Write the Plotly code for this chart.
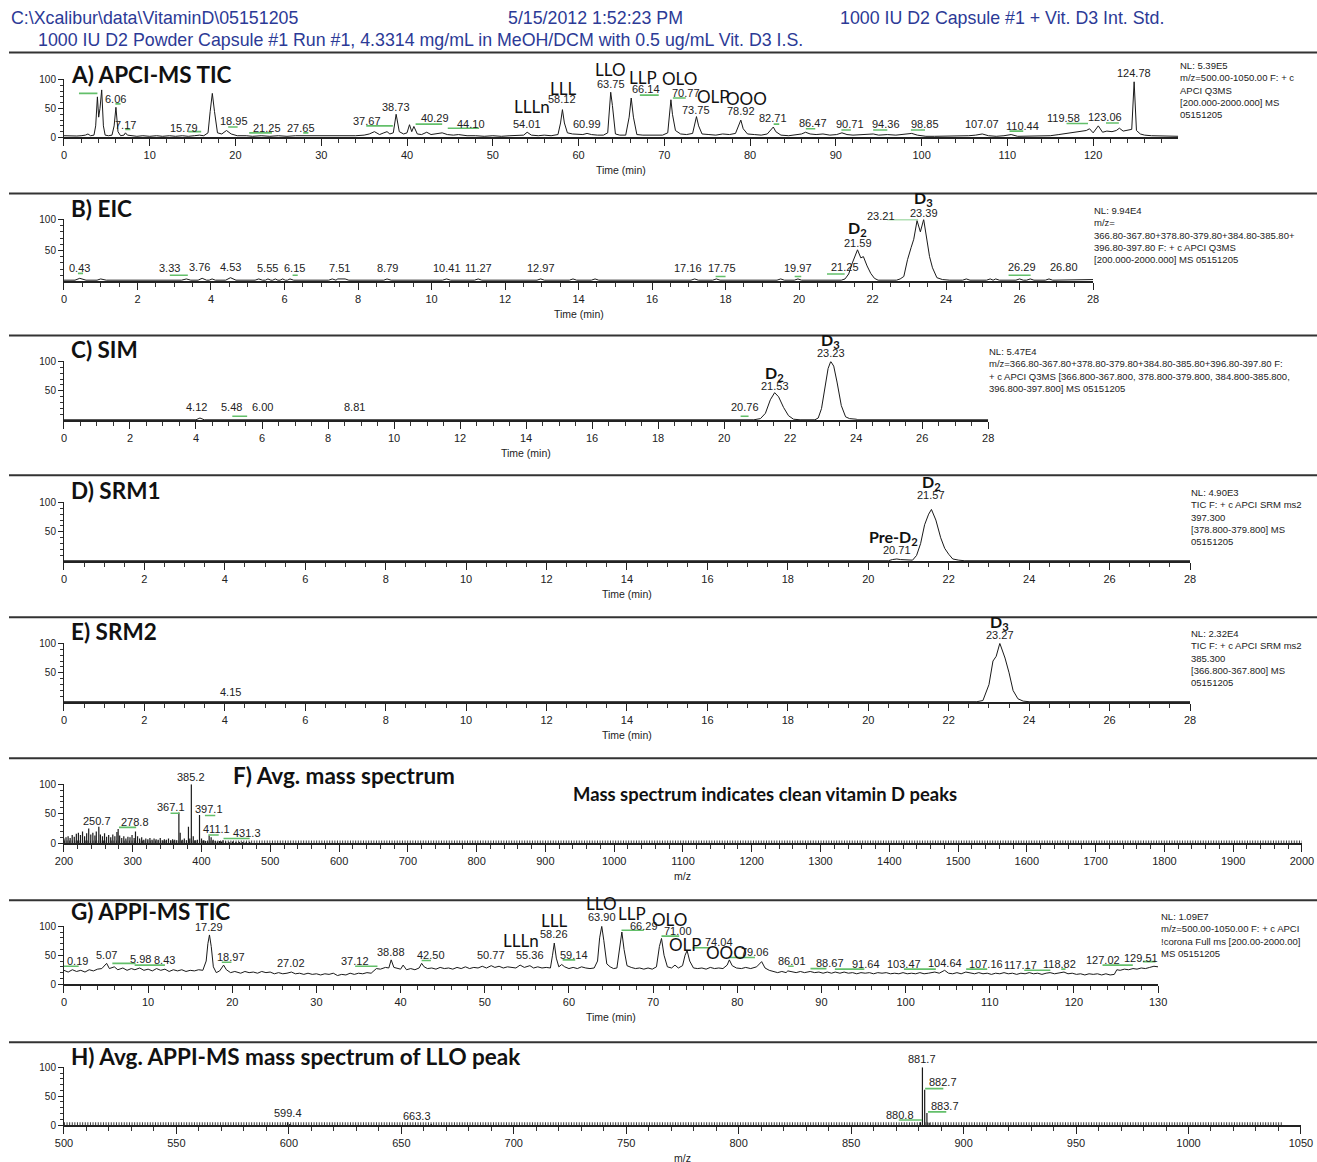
import plotly.graph_objects as go

# Page layout is specified in page pixels; these factors map page pixels to figure pixels.
OX, SX = 8.0, 0.985
OY, SY = 5.5, 0.99
W = round((1317 - OX) / SX)
H = round((1162 - OY) / SY)

# ---------------- header text ----------------
HEADER_PATH = "C:\\Xcalibur\\data\\VitaminD\\05151205"
HEADER_DATE = "5/15/2012 1:52:23 PM"
HEADER_TITLE = "1000 IU D2 Capsule #1 + Vit. D3 Int. Std."
HEADER_SAMPLE = "1000 IU D2 Powder Capsule #1 Run #1, 4.3314 mg/mL in MeOH/DCM with 0.5 ug/mL Vit. D3 I.S."

# ---------------- A) APCI-MS TIC ----------------
a_time = [0, 0.5, 1, 1.5, 2, 2.5, 2.8, 3.1, 3.5, 3.7, 3.9, 4.05, 4.2, 4.4, 4.6, 4.8, 5.2, 5.6, 5.85, 6.06,
          6.3, 6.6, 7.0, 7.17, 7.4, 7.8, 8.5, 9.2, 10, 10.8, 11.5, 12.3, 13, 13.8, 14.5, 15.2, 15.79, 16.3,
          16.8, 17.05, 17.3, 17.55, 17.9, 18.4, 18.95, 19.5, 20.2, 21.25, 22, 23, 24, 25, 26, 27, 27.65,
          28.3, 29.2, 30, 31, 32, 33, 34, 35, 35.6, 36.2, 36.8, 37.3, 37.67, 38.0, 38.4, 38.73, 39.1, 39.6,
          40.0, 40.29, 40.55, 40.8, 41.2, 41.7, 42.3, 42.8, 43.4, 44.1, 44.7, 45.4, 46, 47, 48, 49, 50, 51,
          52, 53, 53.6, 54.01, 54.5, 55.3, 56, 56.8, 57.6, 57.9, 58.12, 58.35, 58.7, 59.3, 60, 60.5, 60.99,
          61.5, 62.2, 62.9, 63.4, 63.6, 63.75, 63.95, 64.3, 64.8, 65.5, 65.9, 66.14, 66.4, 66.8, 67.5, 68.2,
          69, 69.8, 70.4, 70.6, 70.77, 70.95, 71.3, 71.9, 72.6, 73.3, 73.55, 73.75, 74.0, 74.4, 75.2, 76,
          76.8, 77.6, 78.3, 78.7, 78.92, 79.2, 79.7, 80.5, 81.3, 82.0, 82.4, 82.71, 83.0, 83.6, 84.5, 85.3,
          86, 86.47, 87, 87.7, 88.5, 89.3, 90.1, 90.71, 91.3, 92, 93, 94, 94.36, 95, 96, 97, 98, 98.85,
          99.5, 100.5, 101.5, 102.5, 103.5, 104.5, 105.5, 106.3, 107.07, 107.8, 108.7, 109.6, 110.44, 111.2,
          112, 113, 114, 115, 116, 117, 118, 118.6, 119.2, 119.58, 120.0, 120.6, 121.1, 121.6, 122.2, 122.7,
          123.06, 123.5, 124.0, 124.5, 124.78, 125.05, 125.5, 126, 126.8, 127.5, 128.3, 129.2, 130]
a_int = [3, 2.5, 3, 2.5, 3, 4, 6, 3, 4, 20, 70, 35, 50, 82, 20, 4, 3, 4, 20, 52,
         10, 3, 4, 8, 4, 3, 2, 3, 2, 3, 2, 3, 2, 3, 2, 3, 4, 3,
         8, 45, 76, 45, 8, 6, 12, 6, 3, 3, 2, 3, 2, 3, 2, 3, 3,
         2, 3, 2, 3, 2, 3, 3, 4, 6, 10, 5, 8, 10, 6, 8, 40, 10, 6,
         8, 22, 10, 19, 6, 5, 9, 5, 6, 8, 5, 4, 5, 3, 3, 2, 3, 2,
         3, 3, 4, 9, 4, 3, 4, 3, 5, 25, 48, 25, 8, 6, 5, 5, 7,
         5, 4, 4, 8, 55, 78, 55, 6, 4, 4, 35, 68, 35, 5, 4, 4,
         5, 4, 8, 45, 65, 40, 12, 6, 5, 7, 25, 36, 20, 6, 5, 4,
         6, 5, 7, 20, 30, 15, 6, 5, 4, 6, 12, 18, 10, 4, 3, 4,
         6, 9, 6, 5, 6, 4, 5, 8, 5, 4, 5, 5, 6, 4, 5, 4, 6, 7,
         4, 2, 2, 2, 2, 2, 3, 4, 6, 3, 2, 3, 5, 2,
         2, 2, 2, 3, 5, 7, 9, 10, 12, 15, 8, 20, 9, 11, 10, 12,
         16, 11, 12, 14, 96, 12, 6, 4, 3, 3, 2, 2, 2]
a_labels = ["6.06", "7.17", "15.79", "18.95", "21.25", "27.65", "37.67", "38.73", "40.29", "44.10",
            "54.01", "58.12", "60.99", "63.75", "66.14", "70.77", "73.75", "78.92", "82.71", "86.47",
            "90.71", "94.36", "98.85", "107.07", "110.44", "119.58", "123.06", "124.78"]
a_label_level = [67, 22, 16, 28, 16, 16, 29, 53, 33, 24,
                 24, 66, 24, 93, 83, 76, 48, 45, 33, 25,
                 23, 23, 23, 23, 19, 33, 35, 111]
a_label_shift = {"15.79": -15, "18.95": 7, "21.25": 20, "37.67": -20, "40.29": 25, "44.10": 28,
                 "66.14": 15, "70.77": 15, "86.47": 7, "90.71": 8, "94.36": 13, "98.85": 13,
                 "110.44": 11, "119.58": -26, "123.06": -14}
a_names = ["LLLn", "LLL", "LLO", "LLP", "OLO", "OLP", "OOO"]
a_name_time = [54.6, 58.2, 63.75, 67.5, 71.8, 75.7, 79.6]
a_name_level = [53, 85, 118, 103, 101, 71, 67]
a_marks = [(1.75, 3.9, 76), (6.0, 6.6, 58), (7.15, 7.75, 14), (14.5, 16.0, 10), (19.15, 20.25, 18),
           (21.6, 24.25, 8), (27.9, 28.5, 8), (35.25, 38.35, 20), (41.0, 44.1, 23), (44.75, 48.4, 16),
           (67.15, 69.35, 73), (71.0, 72.5, 68), (82.75, 83.4, 23), (86.5, 87.6, 15), (90.65, 91.75, 13),
           (94.35, 96.0, 13), (98.75, 100.4, 13), (110.25, 111.85, 11), (116.9, 119.4, 24), (121.5, 123.0, 25)]
a_info = ["NL: 5.39E5", "m/z=500.00-1050.00 F: + c", "APCI Q3MS", "[200.000-2000.000] MS", "05151205"]

# ---------------- B) EIC ----------------
b_time = [0, 0.3, 0.43, 0.6, 0.9, 1.0, 1.15, 3.2, 3.33, 3.45, 3.65, 3.76, 3.88, 3.95, 4.03, 4.12, 4.4,
          4.53, 4.68, 5.2, 5.3, 5.4, 5.48, 5.55, 5.63, 5.68, 5.75, 5.82, 5.88, 5.95, 6.02, 6.08, 6.15,
          6.25, 7.2, 7.3, 7.4, 7.45, 7.51, 7.65, 7.75, 8.7, 8.79, 8.9, 10.3, 10.41, 10.52, 11.17, 11.27,
          11.37, 12.87, 12.97, 13.07, 13.75, 13.85, 13.95, 14.35, 14.45, 14.55, 17.06, 17.16, 17.26,
          17.65, 17.75, 17.85, 19.4, 19.5, 19.6, 19.87, 19.97, 20.07, 21.15, 21.25, 21.35, 21.45, 21.59,
          21.68, 21.75, 21.85, 21.95, 22.05, 22.15, 22.65, 22.75, 22.85, 22.95, 23.05, 23.12, 23.21,
          23.3, 23.39, 23.48, 23.55, 23.63, 23.75, 23.9, 24.1, 24.45, 24.55, 24.65, 25.1, 25.2, 25.28,
          25.35, 25.45, 25.9, 26.0, 26.1, 26.19, 26.29, 26.39, 26.7, 26.8, 26.9, 27.6, 27.7, 28]
b_int = [2, 2, 5, 2, 2, 4, 2, 2, 4, 2, 2, 5, 2, 2, 4, 2, 2,
         6, 2, 2, 4, 2, 2, 4, 2, 2, 4, 2, 2, 4, 2, 2, 4,
         2, 2, 4, 2, 4, 4, 4, 2, 2, 4, 2, 2, 4, 2, 2, 4,
         2, 2, 4, 2, 2, 4, 2, 2, 4, 2, 2, 4, 2,
         2, 4, 2, 2, 4, 2, 2, 4, 2, 2, 4, 12, 30, 51,
         38, 40, 25, 13, 5, 2, 2, 4, 8, 35, 55, 68, 98,
         80, 100, 65, 40, 22, 6, 3, 2, 2, 4, 2, 2, 4, 2,
         4, 2, 2, 4, 2, 2, 4, 2, 2, 4, 2, 2, 3, 3]
b_labels = ["0.43", "3.33", "3.76", "4.53", "5.55", "6.15", "7.51", "8.79", "10.41", "11.27", "12.97",
            "17.16", "17.75", "19.97", "21.25", "21.59", "23.21", "23.39", "26.29", "26.80"]
b_label_level = [22, 22, 24, 24, 22, 22, 22, 22, 22, 22, 22,
                 22, 22, 22, 24, 62, 105, 111, 24, 24]
b_label_shift = {"3.33": -17, "3.76": -3, "6.15": 4, "17.16": -7, "17.75": 6, "23.21": -36,
                 "26.29": -8, "26.80": 15}
b_names = ["<b>D<sub>2</sub></b>", "<b>D<sub>3</sub></b>"]
b_name_time = [21.59, 23.39]
b_name_level = [85, 133]
b_marks = [(0.38, 0.52, 13), (2.88, 3.37, 10), (6.22, 6.36, 10), (17.73, 18.0, 8), (19.88, 20.06, 8),
           (20.76, 21.24, 12), (22.4, 23.24, 100), (25.7, 26.3, 10)]
b_info = ["NL: 9.94E4", "m/z=", "366.80-367.80+378.80-379.80+384.80-385.80+",
          "396.80-397.80 F: + c APCI Q3MS", "[200.000-2000.000] MS 05151205"]

# ---------------- C) SIM ----------------
c_time = [0, 4.0, 4.12, 4.25, 20.9, 21.1, 21.25, 21.4, 21.53, 21.65, 21.8, 21.95, 22.1, 22.3, 22.75,
          22.85, 22.95, 23.05, 23.15, 23.23, 23.32, 23.42, 23.55, 23.68, 23.8, 24.0, 24.05, 28]
c_int = [1, 1, 4, 1, 1, 3, 12, 35, 47, 40, 22, 8, 2, 1, 1,
         4, 20, 55, 88, 100, 92, 65, 25, 6, 3, 2, 1, 1]
c_labels = ["4.12", "5.48", "6.00", "8.81", "20.76", "21.53", "23.23"]
c_label_level = [22, 22, 22, 22, 22, 58, 115]
c_label_shift = {"4.12": -3, "5.48": -13, "20.76": -4}
c_names = ["<b>D<sub>2</sub></b>", "<b>D<sub>3</sub></b>"]
c_name_time = [21.53, 23.23]
c_name_level = [80, 136]
c_marks = [(5.1, 5.55, 7), (20.5, 20.74, 7)]
c_info = ["NL: 5.47E4", "m/z=366.80-367.80+378.80-379.80+384.80-385.80+396.80-397.80 F:",
          "+ c APCI Q3MS [366.800-367.800, 378.800-379.800, 384.800-385.800,",
          "396.800-397.800] MS 05151205"]

# ---------------- D) SRM1 ----------------
d_time = [0, 20.5, 20.6, 20.71, 20.8, 20.95, 21.1, 21.2, 21.3, 21.4, 21.5, 21.57, 21.68, 21.8, 21.9,
          22.0, 22.1, 22.25, 22.4, 28]
d_int = [1, 1, 3, 4, 3, 3, 2, 10, 30, 62, 80, 88, 70, 40, 22,
         12, 4, 2, 1, 1]
d_labels = ["20.71", "21.57"]
d_label_level = [19, 112]
d_label_shift = {}
d_names = ["<b>Pre-D<sub>2</sub></b>", "<b>D<sub>2</sub></b>"]
d_name_time = [20.62, 21.57]
d_name_level = [41, 133]
d_marks = []
d_info = ["NL: 4.90E3", "TIC F: + c APCI SRM ms2", "397.300", "[378.800-379.800] MS", "05151205"]

# ---------------- E) SRM2 ----------------
e_time = [0, 4.05, 4.15, 4.25, 22.7, 22.85, 23.0, 23.1, 23.18, 23.27, 23.4, 23.5, 23.6, 23.72, 23.85,
          24, 28]
e_int = [1, 1, 2, 1, 1, 3, 30, 70, 78, 100, 75, 50, 20, 6, 2,
         1, 1]
e_labels = ["4.15", "23.27"]
e_label_level = [18, 114]
e_label_shift = {}
e_names = ["<b>D<sub>3</sub></b>"]
e_name_time = [23.27]
e_name_level = [136]
e_marks = []
e_info = ["NL: 2.32E4", "TIC F: + c APCI SRM ms2", "385.300", "[366.800-367.800] MS", "05151205"]

# ---------------- F) Avg. mass spectrum ----------------
f_mz = [200, 203, 206, 209, 212, 215, 218, 221, 224, 227, 230, 233, 236, 239, 242, 245, 247, 250.7,
        253, 256, 259, 262, 265, 268, 271, 274, 277, 278.8, 281, 284, 287, 290, 293, 296, 299, 302, 304,
        307, 310, 313, 316, 319, 322, 325, 328, 331, 334, 337, 340, 343, 346, 349, 352, 355, 358, 361,
        364, 367.1, 369, 372, 375, 378, 381, 383, 385.2, 388, 391, 394, 397.1, 400, 403, 406, 409, 411.1,
        414, 417, 420, 423, 426, 429, 431.3, 435, 440, 445, 450, 455, 460, 465, 470]
f_int = [8, 10, 12, 9, 14, 11, 16, 18, 14, 20, 12, 17, 25, 15, 18, 13, 20, 28,
         15, 12, 17, 11, 14, 10, 15, 12, 19, 24, 13, 9, 12, 8, 11, 10, 14, 9, 20,
         12, 8, 10, 6, 8, 7, 9, 6, 8, 7, 6, 9, 5, 7, 6, 8, 5, 7, 6,
         5, 52, 18, 6, 8, 5, 28, 8, 100, 12, 5, 6, 48, 8, 5, 4, 3, 13,
         10, 6, 4, 3, 4, 3, 5, 3, 2, 3, 2, 2, 2, 2, 2]
f_floor = [(200, 2000, 1.5)]
f_labels = ["250.7", "278.8", "367.1", "385.2", "397.1", "411.1", "431.3"]
f_label_level = [37, 36, 61, 113, 58, 25, 17]
f_label_shift = {"250.7": -2, "278.8": 17, "367.1": -8, "397.1": 9, "411.1": 7, "431.3": 24}
f_marks = [(280, 305, 27), (355, 368, 51), (405, 420, 47), (410, 425, 14), (432, 470, 8)]

# ---------------- G) APPI-MS TIC ----------------
g_time = [0, 0.5, 1, 1.5, 2, 2.5, 3, 3.5, 4, 4.5, 5.07, 5.4, 5.98, 6.4, 7, 7.5, 8, 8.43, 9, 9.5, 10,
          10.5, 11, 11.5, 12, 12.5, 13, 13.5, 14, 14.5, 15, 15.5, 16, 16.5, 16.9, 17.1, 17.29, 17.5, 17.75,
          18.1, 18.5, 18.97, 19.3, 19.8, 20.3, 21, 21.5, 22, 22.5, 23, 23.5, 24, 24.5, 25, 25.5, 26, 26.5,
          27.02, 27.5, 28, 28.5, 29, 29.5, 30, 30.5, 31, 31.5, 32, 32.5, 33, 33.5, 34, 34.5, 35, 35.5, 36,
          36.5, 37.12, 37.6, 38.2, 38.6, 38.88, 39.2, 39.6, 40, 40.3, 40.7, 41.2, 41.7, 42.2, 42.5, 42.8,
          43.2, 43.7, 44.2, 44.7, 45.2, 45.7, 46.2, 46.7, 47.2, 47.7, 48.2, 48.7, 49.2, 49.7, 50.2, 50.77,
          51.2, 51.7, 52.2, 52.7, 53.2, 53.7, 54.2, 54.7, 55.36, 55.8, 56.3, 56.8, 57.3, 57.8, 58.05, 58.26,
          58.5, 58.8, 59.14, 59.5, 60, 60.5, 61, 61.5, 62, 62.5, 63, 63.4, 63.65, 63.9, 64.15, 64.5, 64.9,
          65.3, 65.7, 66.0, 66.29, 66.55, 66.9, 67.4, 67.9, 68.4, 68.9, 69.4, 69.9, 70.4, 70.75, 71.0, 71.3,
          71.7, 72.2, 72.6, 73.0, 73.5, 73.8, 74.04, 74.35, 74.8, 75.3, 75.8, 76.3, 76.8, 77.3, 77.8, 78.3,
          78.8, 79.06, 79.4, 79.9, 80.5, 81, 81.6, 82.3, 82.9, 83.3, 83.8, 84.3, 84.8, 85.3, 85.8, 86.01,
          86.5, 87, 87.5, 88, 88.67, 89.2, 89.7, 90.2, 90.7, 91.2, 91.64, 92.2, 92.7, 93.2, 93.7, 94.2,
          94.7, 95.2, 95.7, 96.2, 96.7, 97.2, 97.7, 98.2, 98.7, 99.2, 99.7, 100.2, 100.7, 101.2, 101.7,
          102.2, 102.7, 103.47, 104, 104.64, 105.1, 105.6, 106.1, 106.6, 107.16, 107.7, 108.2, 108.7, 109.2,
          109.7, 110.2, 110.7, 111.2, 111.7, 112.2, 112.7, 113.2, 113.7, 114.2, 114.7, 115.2, 115.7, 116.2,
          116.7, 117.17, 117.7, 118.2, 118.82, 119.3, 119.8, 120.3, 120.8, 121.3, 121.8, 122.3, 122.8,
          123.3, 123.8, 124.3, 124.8, 125.1, 125.5, 126, 126.5, 127.02, 127.5, 128, 128.5, 129, 129.51, 130]
g_int = [24, 21, 25, 22, 24, 21, 25, 23, 26, 27, 36, 27, 30, 25, 28, 24, 27, 25, 28, 24, 26,
         23, 27, 24, 26, 22, 25, 23, 25, 22, 24, 23, 25, 24, 40, 70, 85, 65, 30,
         20, 23, 33, 25, 20, 22, 19, 22, 20, 21, 19, 22, 20, 21, 18, 20, 18, 19,
         21, 18, 19, 17, 19, 17, 18, 16, 18, 17, 19, 15, 17, 16, 19, 17, 19, 18, 20,
         19, 27, 26, 29, 28, 42, 29, 27, 26, 33, 25, 27, 25, 28, 36, 30,
         27, 28, 26, 29, 27, 28, 26, 29, 27, 30, 27, 29, 28, 31, 28, 32,
         29, 31, 28, 30, 29, 28, 33, 29, 32, 28, 30, 28, 29, 28, 50, 71,
         45, 30, 34, 30, 27, 29, 27, 30, 28, 27, 28, 40, 80, 100, 75, 35, 30,
         27, 28, 60, 90, 60, 32, 29, 27, 28, 26, 28, 26, 30, 65, 79, 50,
         30, 28, 33, 28, 32, 50, 58, 40, 28, 27, 28, 26, 29, 27, 28, 27,
         33, 42, 32, 28, 27, 29, 27, 30, 39, 28, 24, 22, 20, 22, 20, 23,
         21, 20, 22, 20, 22, 20, 21, 19, 21, 19, 21, 19, 21, 19, 20, 18,
         20, 19, 20, 18, 20, 19, 20, 18, 19, 18, 20, 18, 19, 18, 20,
         18, 19, 21, 19, 24, 19, 18, 20, 18, 21, 19, 18, 20, 18,
         19, 17, 19, 18, 20, 18, 19, 17, 19, 18, 20, 18, 19, 17,
         19, 20, 18, 19, 21, 18, 19, 17, 18, 16, 18, 17, 18,
         16, 18, 16, 17, 25, 24, 26, 25, 27, 26, 28, 27, 29, 31, 30]
g_labels = ["0.19", "5.07", "5.98", "8.43", "17.29", "18.97", "27.02", "37.12", "38.88", "42.50", "50.77",
            "55.36", "58.26", "59.14", "63.90", "66.29", "71.00", "74.04", "79.06", "86.01", "88.67",
            "91.64", "103.47", "104.64", "107.16", "117.17", "118.82", "127.02", "129.51"]
g_label_level = [40, 50, 44, 42, 98, 47, 37, 40, 55, 50, 50,
                 50, 86, 51, 116, 101, 92, 72, 56, 40, 37,
                 35, 35, 37, 35, 33, 35, 42, 46]
g_label_shift = {"0.19": 12, "5.98": 26, "8.43": 29, "18.97": 7, "37.12": -21, "42.50": 9, "59.14": 12,
                 "66.29": 22, "71.00": 16, "74.04": 31, "79.06": 25, "86.01": 4, "88.67": 19, "91.64": 30,
                 "103.47": -30, "107.16": 20, "117.17": -29, "118.82": -4, "127.02": -30, "129.51": -13}
g_names = ["LLLn", "LLL", "LLO", "LLP", "OLO", "OLP", "OOO"]
g_name_time = [54.3, 58.2, 63.9, 67.5, 72.0, 73.9, 78.7]
g_name_level = [76, 110, 139, 122, 111, 69, 54]
g_marks = [(0, 1.75, 31), (5.75, 8.5, 36), (8.4, 12.0, 33), (18.75, 19.9, 38), (34.6, 37.25, 31),
           (42.5, 43.6, 41), (59.25, 60.75, 42), (66.25, 68.9, 93), (71.0, 73.1, 83), (74.7, 76.7, 63),
           (79.0, 82.1, 46), (86.05, 86.7, 31), (88.7, 90.6, 27), (91.6, 95.1, 26), (99.8, 103.6, 26),
           (107.2, 109.7, 26), (114.1, 117.2, 24), (118.5, 119.0, 26), (123.4, 127.0, 33), (128.2, 129.7, 39)]
g_info = ["NL: 1.09E7", "m/z=500.00-1050.00 F: + c APCI", "!corona Full ms [200.00-2000.00]", "MS 05151205"]

# ---------------- H) Avg. APPI-MS spectrum of LLO peak ----------------
h_mz = [599.4, 600.4, 663.3, 880.8, 881.7, 882.7, 883.7, 884.7]
h_int = [5, 2, 2, 5, 100, 61, 21, 4]
h_floor = [(500, 1042, 1.5)]
h_labels = ["599.4", "663.3", "880.8", "881.7", "882.7", "883.7"]
h_label_level = [21, 16, 17, 115, 74, 33]
h_label_shift = {"663.3": -14, "880.8": -20, "882.7": 18, "883.7": 18}
h_marks = [(871.2, 881.5, 9), (882.9, 891.0, 63), (884.2, 892.3, 23)]

# ---------------- page geometry (page pixels) ----------------
PANELS = [
    dict(key="A", title="A) APCI-MS TIC", tx=68, ty=74, x0=63, x1=1178, yb=137, yt=79,
         rng=[0, 129.9], dtick=10, minor=2, xt="Time (min)", zero=True, ix=1178, iy=58),
    dict(key="B", title="B) EIC", tx=68, ty=208, x0=63, x1=1093, yb=281, yt=219,
         rng=[0, 28], dtick=2, minor=0.5, xt="Time (min)", zero=False, ix=1092, iy=203),
    dict(key="C", title="C) SIM", tx=68, ty=349, x0=63, x1=988, yb=420, yt=361,
         rng=[0, 28], dtick=2, minor=0.5, xt="Time (min)", zero=False, ix=987, iy=344),
    dict(key="D", title="D) SRM1", tx=68, ty=490, x0=63, x1=1190, yb=561, yt=502,
         rng=[0, 28], dtick=2, minor=0.5, xt="Time (min)", zero=False, ix=1189, iy=485),
    dict(key="E", title="E) SRM2", tx=68, ty=631, x0=63, x1=1190, yb=702, yt=643,
         rng=[0, 28], dtick=2, minor=0.5, xt="Time (min)", zero=False, ix=1189, iy=626),
    dict(key="F", title="F) Avg. mass spectrum", tx=230, ty=775, x0=63, x1=1302, yb=843, yt=784,
         rng=[200, 2000], dtick=100, minor=20, xt="m/z", zero=True, ix=None, iy=None),
    dict(key="G", title="G) APPI-MS TIC", tx=68, ty=911, x0=63, x1=1158, yb=984, yt=926,
         rng=[0, 130], dtick=10, minor=2, xt="Time (min)", zero=True, ix=1159, iy=909),
    dict(key="H", title="H) Avg. APPI-MS mass spectrum of LLO peak", tx=68, ty=1056, x0=63, x1=1301,
         yb=1125, yt=1067, rng=[500, 1050], dtick=50, minor=10, xt="m/z", zero=True, ix=None, iy=None),
]
SEPARATORS = [52, 193, 335, 475, 617, 758, 900, 1042]

NUM_FONT = "Liberation Sans Narrow, Arial Narrow, Liberation Sans, Arial, sans-serif"
TITLE_FONT = "Lato, Carlito, Calibri, Open Sans, sans-serif"
INK = "#1a1a1a"
MARK_GREEN = "#63bf6a"
HEADER_BLUE = "#2c3a96"

chrom = {
    "A": (a_time, a_int), "B": (b_time, b_int), "C": (c_time, c_int),
    "D": (d_time, d_int), "E": (e_time, e_int), "G": (g_time, g_int),
}
spectra = {"F": (f_mz, f_int, f_floor), "H": (h_mz, h_int, h_floor)}
labels = {
    "A": (a_labels, a_label_level, a_label_shift), "B": (b_labels, b_label_level, b_label_shift),
    "C": (c_labels, c_label_level, c_label_shift), "D": (d_labels, d_label_level, d_label_shift),
    "E": (e_labels, e_label_level, e_label_shift), "F": (f_labels, f_label_level, f_label_shift),
    "G": (g_labels, g_label_level, g_label_shift), "H": (h_labels, h_label_level, h_label_shift),
}
names = {
    "A": (a_names, a_name_time, a_name_level, False), "B": (b_names, b_name_time, b_name_level, True),
    "C": (c_names, c_name_time, c_name_level, True), "D": (d_names, d_name_time, d_name_level, True),
    "E": (e_names, e_name_time, e_name_level, True), "G": (g_names, g_name_time, g_name_level, False),
}
marks = {"A": a_marks, "B": b_marks, "C": c_marks, "D": d_marks, "E": e_marks,
         "F": f_marks, "G": g_marks, "H": h_marks}
infos = {"A": a_info, "B": b_info, "C": c_info, "D": d_info, "E": e_info, "G": g_info}


def px(xp):
    """page x pixel -> paper fraction"""
    return ((xp - OX) / SX) / W


def py(yp):
    """page y pixel -> paper fraction"""
    return 1 - ((yp - OY) / SY) / H


def level_to_paper(p, lv):
    """intensity level (may exceed 100) -> paper y for a panel"""
    return py(p["yb"] - lv * (p["yb"] - p["yt"]) / 100.0)


fig = go.Figure()
annotations = []
shapes = []
layout_axes = {}

for i, p in enumerate(PANELS, start=1):
    sfx = "" if i == 1 else str(i)
    xa, ya = "x" + sfx, "y" + sfx
    key = p["key"]

    # data traces
    if key in chrom:
        t, v = chrom[key]
        fig.add_trace(go.Scatter(x=t, y=v, mode="lines", xaxis=xa, yaxis=ya,
                                 line=dict(color=INK, width=1), hoverinfo="skip", showlegend=False))
    else:
        mz, inten, floor = spectra[key]
        for (f0, f1, lvl) in floor:
            fig.add_trace(go.Scatter(x=[f0, f1], y=[lvl, lvl], mode="lines", xaxis=xa, yaxis=ya,
                                     line=dict(color="#3a3a3a", width=4, dash="1px,1.6px"),
                                     hoverinfo="skip", showlegend=False))
        sx, sy = [], []
        for m, h in zip(mz, inten):
            sx += [m, m, None]
            sy += [0, h, None]
        fig.add_trace(go.Scatter(x=sx, y=sy, mode="lines", xaxis=xa, yaxis=ya,
                                 line=dict(color=INK, width=1.2), hoverinfo="skip", showlegend=False))

    # green peak markers
    mk = marks[key]
    if mk:
        gx, gy = [], []
        for (m0, m1, lvl) in mk:
            gx += [m0, m1, None]
            gy += [lvl, lvl, None]
        fig.add_trace(go.Scatter(x=gx, y=gy, mode="lines", xaxis=xa, yaxis=ya,
                                 line=dict(color=MARK_GREEN, width=1.6), hoverinfo="skip",
                                 showlegend=False, cliponaxis=False))

    # axes
    layout_axes["xaxis" + sfx] = dict(
        domain=[px(p["x0"]), px(p["x1"])], range=p["rng"], anchor=ya,
        showline=True, linecolor="#222", linewidth=1.5, showgrid=False, zeroline=False,
        ticks="outside", ticklen=7, tickwidth=1, tickcolor="#222",
        tick0=p["rng"][0], dtick=p["dtick"],
        minor=dict(dtick=p["minor"], tick0=p["rng"][0], ticks="outside", ticklen=4,
                   tickwidth=1, tickcolor="#333"),
        tickfont=dict(family=NUM_FONT, size=11, color="#222"), fixedrange=True,
    )
    layout_axes["yaxis" + sfx] = dict(
        domain=[py(p["yb"]), py(p["yt"])], range=[0, 100], anchor=xa,
        showline=True, linecolor="#222", linewidth=1, showgrid=False, zeroline=False,
        tickvals=[0, 50, 100] if p["zero"] else [50, 100],
        ticks="outside", ticklen=5, tickwidth=1, tickcolor="#222",
        minor=dict(tickvals=[10, 20, 30, 40, 60, 70, 80, 90], ticks="outside", ticklen=3,
                   tickwidth=1, tickcolor="#333"),
        tickfont=dict(family=NUM_FONT, size=10, color="#222"), fixedrange=True,
    )

    # panel title
    annotations.append(dict(text="<b>%s</b>" % p["title"], xref="paper", yref="paper",
                            x=px(p["tx"]), y=py(p["ty"]), xanchor="left", yanchor="middle",
                            showarrow=False, font=dict(family=TITLE_FONT, size=22.5, color="#111")))
    # axis caption
    annotations.append(dict(text=p["xt"], xref="paper", yref="paper",
                            x=px((p["x0"] + p["x1"]) / 2), y=py(p["yb"] + 33), xanchor="center",
                            yanchor="middle", showarrow=False,
                            font=dict(family=NUM_FONT, size=10.5, color="#222")))

    # peak apex labels
    txts, lvls, shifts = labels[key]
    for s, lv in zip(txts, lvls):
        annotations.append(dict(text=s, xref=xa, yref="paper", x=float(s), y=level_to_paper(p, lv),
                                xanchor="center", yanchor="middle", showarrow=False,
                                xshift=shifts.get(s, 0) / SX,
                                font=dict(family=NUM_FONT, size=11, color="#222")))

    # compound names
    if key in names:
        nm, nt, nl, bold = names[key]
        for s, t0, lv in zip(nm, nt, nl):
            annotations.append(dict(text=s, xref=xa, yref="paper", x=t0, y=level_to_paper(p, lv),
                                    xanchor="center", yanchor="middle", showarrow=False,
                                    font=dict(family=TITLE_FONT, size=16 if bold else 17, color="#111")))

    # instrument info block
    if key in infos:
        annotations.append(dict(text="<br>".join(infos[key]), xref="paper", yref="paper",
                                x=px(p["ix"]), y=py(p["iy"]), xanchor="left", yanchor="top",
                                align="left", showarrow=False,
                                font=dict(family=NUM_FONT, size=9.5, color="#222")))

# panel separators
for yp in SEPARATORS:
    shapes.append(dict(type="line", xref="paper", yref="paper", x0=px(8), x1=1, y0=py(yp), y1=py(yp),
                       line=dict(color="#333", width=2)))

# header lines
hdr_font = dict(family="Liberation Sans, Arial, sans-serif", size=17.8, color=HEADER_BLUE)
for txt, xp, yp in [(HEADER_PATH, 8, 18), (HEADER_DATE, 505, 18), (HEADER_TITLE, 838, 18),
                    (HEADER_SAMPLE, 35, 40)]:
    annotations.append(dict(text=txt, xref="paper", yref="paper", x=px(xp), y=py(yp), xanchor="left",
                            yanchor="middle", showarrow=False, font=hdr_font))

# note on spectrum F
annotations.append(dict(text="<b>Mass spectrum indicates clean vitamin D peaks</b>", xref="paper",
                        yref="paper", x=px(765), y=py(794), xanchor="center", yanchor="middle",
                        showarrow=False, font=dict(family=TITLE_FONT, size=18.4, color="#111")))

fig.update_layout(
    width=W, height=H, margin=dict(l=0, r=0, t=0, b=0),
    paper_bgcolor="white", plot_bgcolor="white",
    annotations=annotations, shapes=shapes, showlegend=False, **layout_axes,
)

fig.write_html("out.html")
